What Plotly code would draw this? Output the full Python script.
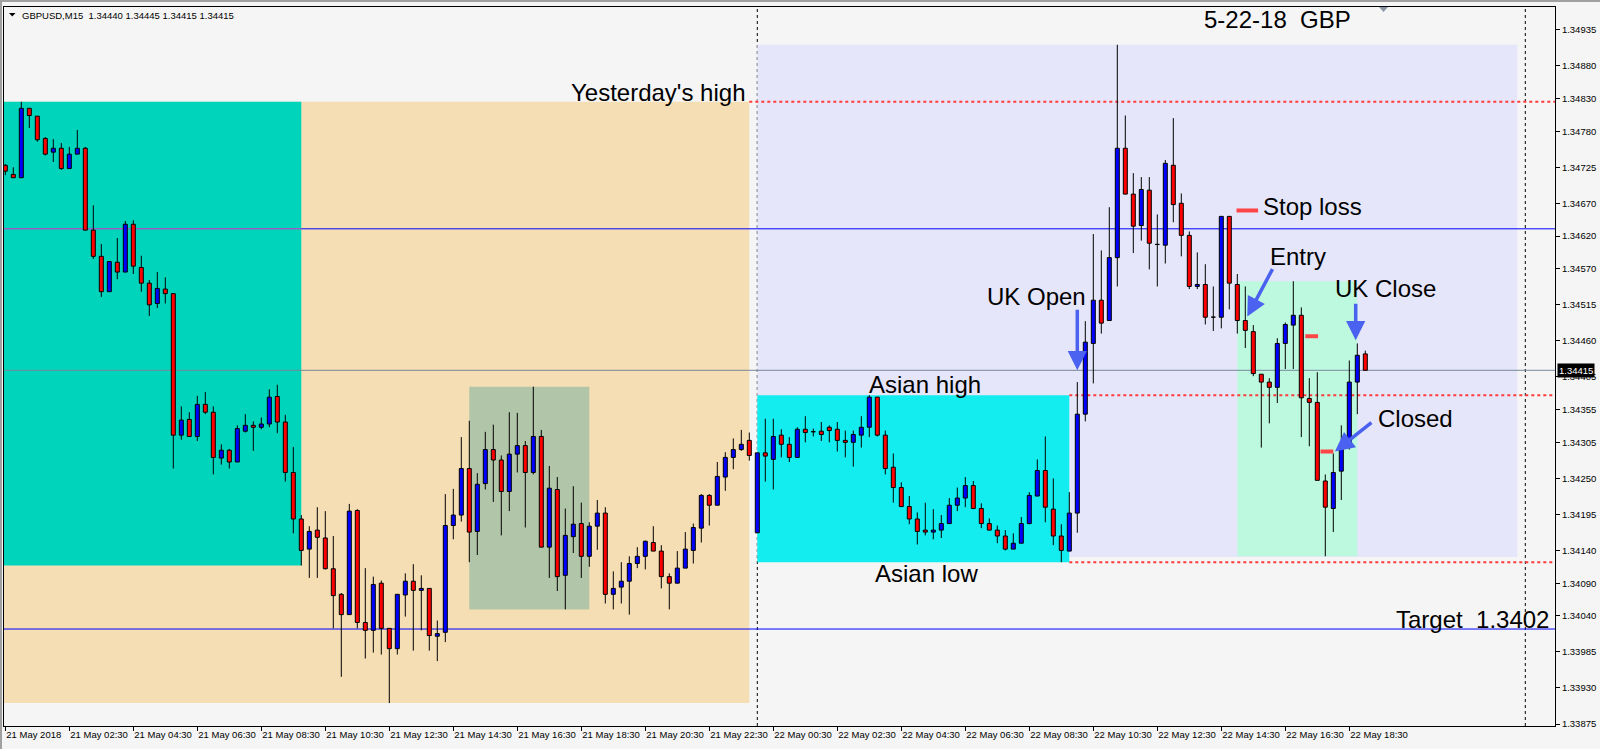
import plotly.graph_objects as go

# ---------------- data (GBPUSD M15, 21 May 00:30 -> 22 May 19:00) ----------------
bar_index = list(range(171))

opens = [1.34728, 1.34714, 1.34709, 1.34815, 1.34803, 1.34769, 1.34748, 1.34754, 1.34723, 1.34745,
         1.34754, 1.34629, 1.34589, 1.34535, 1.34580, 1.34565, 1.34638, 1.34572, 1.34548, 1.34517,
         1.34539, 1.34532, 1.34316, 1.34340, 1.34314, 1.34363, 1.34351, 1.34281, 1.34293, 1.34275,
         1.34322, 1.34331, 1.34328, 1.34333, 1.34375, 1.34336, 1.34259, 1.34188, 1.34142, 1.34171,
         1.34159, 1.34112, 1.34073, 1.34042, 1.34201, 1.34030, 1.34018, 1.34090, 1.34021, 1.33990,
         1.34072, 1.34093, 1.34079, 1.34082, 1.34009, 1.34015, 1.34178, 1.34194, 1.34265, 1.34169,
         1.34242, 1.34294, 1.34278, 1.34230, 1.34287, 1.34300, 1.34259, 1.34314, 1.34145, 1.34233,
         1.34102, 1.34161, 1.34181, 1.34131, 1.34177, 1.34197, 1.34073, 1.34084, 1.34093, 1.34120,
         1.34131, 1.34152, 1.34139, 1.34100, 1.34090, 1.34113, 1.34140, 1.34174, 1.34224, 1.34209,
         1.34252, 1.34282, 1.34294, 1.34308, 1.34167, 1.34289, 1.34279, 1.34316, 1.34302, 1.34282,
         1.34325, 1.34321, 1.34322, 1.34328, 1.34325, 1.34308, 1.34305, 1.34316, 1.34328, 1.34374,
         1.34316, 1.34267, 1.34236, 1.34207, 1.34188, 1.34171, 1.34168, 1.34171, 1.34181, 1.34209,
         1.34220, 1.34239, 1.34204, 1.34181, 1.34171, 1.34162, 1.34142, 1.34151, 1.34181, 1.34223,
         1.34262, 1.34203, 1.34162, 1.34139, 1.34197, 1.34348, 1.34456, 1.34522, 1.34491, 1.34587,
         1.34754, 1.34684, 1.34636, 1.34690, 1.34607, 1.34606, 1.34728, 1.34670, 1.34621, 1.34543,
         1.34546, 1.34496, 1.34496, 1.34650, 1.34546, 1.34491, 1.34474, 1.34409, 1.34397, 1.34389,
         1.34456, 1.34484, 1.34499, 1.34372, 1.34366, 1.34246, 1.34204, 1.34261, 1.34299, 1.34397,
         1.34440]

highs = [1.34730, 1.34725, 1.34825, 1.34815, 1.34803, 1.34771, 1.34768, 1.34762, 1.34756, 1.34782,
         1.34756, 1.34667, 1.34608, 1.34581, 1.34617, 1.34643, 1.34644, 1.34590, 1.34553, 1.34565,
         1.34557, 1.34532, 1.34360, 1.34351, 1.34376, 1.34382, 1.34360, 1.34302, 1.34295, 1.34331,
         1.34348, 1.34337, 1.34343, 1.34386, 1.34393, 1.34347, 1.34298, 1.34194, 1.34177, 1.34206,
         1.34200, 1.34162, 1.34075, 1.34211, 1.34203, 1.34113, 1.34100, 1.34094, 1.34021, 1.34073,
         1.34105, 1.34119, 1.34102, 1.34082, 1.34033, 1.34226, 1.34234, 1.34313, 1.34338, 1.34258,
         1.34321, 1.34332, 1.34285, 1.34351, 1.34350, 1.34307, 1.34390, 1.34324, 1.34269, 1.34252,
         1.34204, 1.34238, 1.34213, 1.34183, 1.34217, 1.34206, 1.34108, 1.34122, 1.34131, 1.34145,
         1.34155, 1.34177, 1.34148, 1.34105, 1.34139, 1.34168, 1.34181, 1.34226, 1.34226, 1.34275,
         1.34290, 1.34311, 1.34324, 1.34320, 1.34289, 1.34341, 1.34341, 1.34325, 1.34313, 1.34328,
         1.34345, 1.34326, 1.34336, 1.34331, 1.34336, 1.34323, 1.34323, 1.34345, 1.34377, 1.34374,
         1.34323, 1.34288, 1.34244, 1.34223, 1.34198, 1.34213, 1.34203, 1.34194, 1.34220, 1.34236,
         1.34252, 1.34246, 1.34212, 1.34189, 1.34178, 1.34171, 1.34166, 1.34191, 1.34229, 1.34279,
         1.34314, 1.34250, 1.34180, 1.34229, 1.34397, 1.34490, 1.34623, 1.34598, 1.34664, 1.34912,
         1.34804, 1.34716, 1.34710, 1.34710, 1.34653, 1.34736, 1.34800, 1.34685, 1.34627, 1.34595,
         1.34577, 1.34543, 1.34650, 1.34650, 1.34562, 1.34543, 1.34484, 1.34409, 1.34403, 1.34464,
         1.34488, 1.34551, 1.34511, 1.34403, 1.34412, 1.34256, 1.34288, 1.34331, 1.34430, 1.34456,
         1.34445]

lows = [1.34713, 1.34709, 1.34709, 1.34785, 1.34764, 1.34743, 1.34733, 1.34721, 1.34723, 1.34745,
        1.34629, 1.34585, 1.34527, 1.34535, 1.34554, 1.34565, 1.34562, 1.34535, 1.34498, 1.34510,
        1.34517, 1.34265, 1.34309, 1.34314, 1.34307, 1.34348, 1.34256, 1.34271, 1.34265, 1.34275,
        1.34320, 1.34292, 1.34325, 1.34328, 1.34319, 1.34245, 1.34166, 1.34117, 1.34098, 1.34098,
        1.34111, 1.34021, 1.33947, 1.34042, 1.34021, 1.33975, 1.33984, 1.33981, 1.33907, 1.33981,
        1.34039, 1.33987, 1.34018, 1.33987, 1.33971, 1.34000, 1.34157, 1.34184, 1.34122, 1.34133,
        1.34233, 1.34214, 1.34163, 1.34200, 1.34259, 1.34175, 1.34256, 1.34145, 1.34098, 1.34078,
        1.34050, 1.34136, 1.34098, 1.34115, 1.34141, 1.34059, 1.34050, 1.34059, 1.34042, 1.34113,
        1.34111, 1.34139, 1.34082, 1.34050, 1.34090, 1.34113, 1.34120, 1.34152, 1.34178, 1.34209,
        1.34231, 1.34264, 1.34292, 1.34277, 1.34167, 1.34245, 1.34233, 1.34282, 1.34275, 1.34282,
        1.34305, 1.34314, 1.34307, 1.34305, 1.34291, 1.34282, 1.34268, 1.34297, 1.34313, 1.34314,
        1.34256, 1.34213, 1.34206, 1.34180, 1.34149, 1.34163, 1.34157, 1.34159, 1.34181, 1.34200,
        1.34206, 1.34203, 1.34174, 1.34171, 1.34151, 1.34140, 1.34142, 1.34151, 1.34180, 1.34223,
        1.34183, 1.34148, 1.34122, 1.34139, 1.34167, 1.34337, 1.34395, 1.34471, 1.34491, 1.34543,
        1.34684, 1.34594, 1.34613, 1.34569, 1.34543, 1.34578, 1.34641, 1.34589, 1.34539, 1.34539,
        1.34485, 1.34475, 1.34479, 1.34508, 1.34471, 1.34449, 1.34406, 1.34297, 1.34334, 1.34365,
        1.34417, 1.34417, 1.34313, 1.34299, 1.34247, 1.34131, 1.34168, 1.34217, 1.34294, 1.34348,
        1.34415]

closes = [1.34719, 1.34709, 1.34815, 1.34804, 1.34767, 1.34745, 1.34754, 1.34723, 1.34745, 1.34754,
          1.34629, 1.34589, 1.34535, 1.34581, 1.34565, 1.34638, 1.34574, 1.34548, 1.34515, 1.34540,
          1.34532, 1.34316, 1.34339, 1.34314, 1.34363, 1.34351, 1.34282, 1.34293, 1.34275, 1.34326,
          1.34331, 1.34328, 1.34333, 1.34374, 1.34336, 1.34259, 1.34188, 1.34140, 1.34169, 1.34160,
          1.34112, 1.34071, 1.34042, 1.34200, 1.34030, 1.34018, 1.34088, 1.34021, 1.33990, 1.34073,
          1.34093, 1.34079, 1.34082, 1.34010, 1.34013, 1.34178, 1.34194, 1.34265, 1.34168, 1.34241,
          1.34294, 1.34278, 1.34230, 1.34287, 1.34300, 1.34259, 1.34314, 1.34145, 1.34235, 1.34100,
          1.34163, 1.34180, 1.34131, 1.34177, 1.34197, 1.34073, 1.34082, 1.34093, 1.34120, 1.34131,
          1.34154, 1.34139, 1.34100, 1.34090, 1.34113, 1.34142, 1.34175, 1.34224, 1.34209, 1.34253,
          1.34282, 1.34294, 1.34302, 1.34285, 1.34289, 1.34284, 1.34314, 1.34302, 1.34282, 1.34325,
          1.34320, 1.34321, 1.34317, 1.34323, 1.34308, 1.34305, 1.34317, 1.34328, 1.34374, 1.34316,
          1.34265, 1.34236, 1.34207, 1.34188, 1.34169, 1.34168, 1.34171, 1.34181, 1.34209, 1.34220,
          1.34239, 1.34204, 1.34181, 1.34171, 1.34162, 1.34142, 1.34151, 1.34181, 1.34224, 1.34262,
          1.34206, 1.34162, 1.34140, 1.34197, 1.34348, 1.34458, 1.34522, 1.34487, 1.34587, 1.34754,
          1.34684, 1.34635, 1.34691, 1.34609, 1.34607, 1.34731, 1.34668, 1.34621, 1.34543, 1.34546,
          1.34496, 1.34496, 1.34650, 1.34548, 1.34491, 1.34476, 1.34410, 1.34397, 1.34389, 1.34456,
          1.34485, 1.34499, 1.34373, 1.34366, 1.34247, 1.34206, 1.34259, 1.34299, 1.34397, 1.34438,
          1.34415]

tick_bars = [0, 8, 16, 24, 32, 40, 48, 56, 64, 72, 80, 88, 96, 104, 112, 120, 128, 136, 144, 152, 160, 168]
tick_labels = ["21 May 2018", "21 May 02:30", "21 May 04:30", "21 May 06:30", "21 May 08:30",
               "21 May 10:30", "21 May 12:30", "21 May 14:30", "21 May 16:30", "21 May 18:30",
               "21 May 20:30", "21 May 22:30", "22 May 00:30", "22 May 02:30", "22 May 04:30",
               "22 May 06:30", "22 May 08:30", "22 May 10:30", "22 May 12:30", "22 May 14:30",
               "22 May 16:30", "22 May 18:30"]
price_ticks = [1.34935, 1.34880, 1.34830, 1.34780, 1.34725, 1.34670, 1.34620, 1.34570, 1.34515,
               1.34460, 1.34405, 1.34355, 1.34305, 1.34250, 1.34195, 1.34140, 1.34090, 1.34040,
               1.33985, 1.33930, 1.33875]

# price levels
yesterday_high = 1.34825
asian_high = 1.34377
asian_low = 1.34122
blue_level = 1.34631
current_price = 1.34415
target_price = 1.34020
stop_loss = 1.34659
entry_mark = 1.34467
closed_price = 1.34291

# session boxes: (first bar, last bar, high, low)
day21_box = (-2, 93, 1.34825, 1.33907)
asia21_box = (-2, 37, 1.34825, 1.34117)
ny21_box = (58, 73, 1.34390, 1.34050)
day22_box = (94, 189, 1.34912, 1.34130)
asia22_box = (94, 133, 1.34377, 1.34122)
trade_box = (154, 169, 1.34551, 1.34131)
midnight_bars = [94, 190]
level_start_yh = 93
level_start_asia = 133
uk_open_bar = 134
uk_close_bar = 168.8
entry_bar = 155.25
closed_bar = 166.2
stop_mark_bars = (153.9, 156.6)
entry_mark_bars = (162.5, 164.1)
closed_mark_bars = (164.4, 166.0)

# ---------------- geometry ----------------
W, H = 1600, 749
ML, MR, MT, MB = 4, 45, 7, 23
PW, PH = W - ML - MR, H - MT - MB
PX_PER_BAR = 8.0
PX_PER_PRICE = 65500.0
x0 = -0.1625
x_range = [x0, x0 + PW / PX_PER_BAR]
y_top = 1.34935 + (29.7 - MT) / PX_PER_PRICE
y_range = [y_top - PH / PX_PER_PRICE, y_top]


def xp(px):
    return (px - ML) / PW


def yp(py):
    return 1 - (py - MT) / PH


FONT = "Liberation Sans, Arial, sans-serif"
AXFONT = dict(family=FONT, size=9.5, color="black")

fig = go.Figure()

# wicks (split into upper/lower so they don't cross bodies)
wx, wy = [], []
for i, o, h, l, c in zip(bar_index, opens, highs, lows, closes):
    top, bot = max(o, c), min(o, c)
    if h > top:
        wx += [i, i, None]
        wy += [top, h, None]
    if l < bot:
        wx += [i, i, None]
        wy += [bot, l, None]
fig.add_trace(go.Scatter(x=wx, y=wy, mode="lines", line=dict(color="black", width=1),
                         hoverinfo="skip", showlegend=False))

MIN_BODY = 0.000004
for bull, color in ((True, "#0000FF"), (False, "#FF0000")):
    xs, bases, heights = [], [], []
    for i, o, c in zip(bar_index, opens, closes):
        if (c > o) == bull:
            xs.append(i)
            bases.append(min(o, c))
            heights.append(max(abs(c - o), MIN_BODY))
    fig.add_trace(go.Bar(x=xs, y=heights, base=bases, width=0.5,
                         marker=dict(color=color, line=dict(color="black", width=1)),
                         hoverinfo="skip", showlegend=False))

shapes = []


def rect(box, color):
    b0, b1, hi, lo = box
    shapes.append(dict(type="rect", xref="x", yref="y", x0=b0, x1=b1, y0=lo, y1=hi,
                       fillcolor=color, line=dict(width=0), layer="below"))


rect(day21_box, "#F5DEB3")
rect(asia21_box, "#00D5BC")
rect(ny21_box, "#B1C5A8")
rect(day22_box, "#E6E6FA")
rect(asia22_box, "#13EDEF")
rect(trade_box, "#BCF9DF")


def hline(y, xa, xb, color, width=1, dash="solid", layer="below"):
    shapes.append(dict(type="line", xref="x", yref="y", x0=xa, x1=xb, y0=y, y1=y,
                       line=dict(color=color, width=width, dash=dash), layer=layer))


hline(blue_level, x_range[0], asia21_box[1], "#E822C8")
hline(blue_level, asia21_box[1], x_range[1], "#0000FF")
hline(current_price, x_range[0], x_range[1], "#778899")
hline(target_price, x_range[0], x_range[1], "#0000FF")
hline(yesterday_high, level_start_yh, x_range[1], "#FF3B3B", 2, "3px,3px")
hline(asian_high, level_start_asia, x_range[1], "#FF3B3B", 2, "3px,3px")
hline(asian_low, level_start_asia, x_range[1], "#FF3B3B", 2, "3px,3px")
hline(stop_loss, stop_mark_bars[0], stop_mark_bars[1], "#FF4545", 4, layer="above")
hline(entry_mark, entry_mark_bars[0], entry_mark_bars[1], "#FF4545", 4, layer="above")
hline(closed_price, closed_mark_bars[0], closed_mark_bars[1], "#FF4545", 4, layer="above")

for b in midnight_bars:
    shapes.append(dict(type="line", xref="x", yref="paper", x0=b, x1=b, y0=0, y1=1,
                       line=dict(color="black", width=1, dash="3px,3px"), layer="below"))

# window frame bits
shapes.append(dict(type="rect", xref="paper", yref="paper", x0=xp(0), x1=xp(1600), y0=yp(2), y1=yp(0),
                   fillcolor="#A0A0A0", line=dict(width=0)))
shapes.append(dict(type="rect", xref="paper", yref="paper", x0=xp(0), x1=xp(2), y0=yp(749), y1=yp(0),
                   fillcolor="#A0A0A0", line=dict(width=0)))
shapes.append(dict(type="path", xref="paper", yref="paper",
                   path=f"M {xp(1379)} {yp(7)} L {xp(1388)} {yp(7)} L {xp(1383.5)} {yp(12)} Z",
                   fillcolor="#8A96A3", line=dict(width=0)))
shapes.append(dict(type="path", xref="paper", yref="paper",
                   path=f"M {xp(9)} {yp(13)} L {xp(15.5)} {yp(13)} L {xp(12.25)} {yp(16.5)} Z",
                   fillcolor="black", line=dict(width=0)))

annotations = []


def label(text, px, py, anchor, size=24):
    annotations.append(dict(text=text, xref="paper", yref="paper", x=xp(px), y=yp(py),
                            xanchor=anchor, yanchor="middle", showarrow=False,
                            font=dict(family=FONT, size=size, color="black")))


label("5-22-18\u00a0 GBP", 1277.5, 20, "center")
label("Yesterday's high", 747, 92, "right")
label("Stop loss", 1261, 206, "left")
label("Entry", 1268, 256, "left")
label("UK Open", 1088, 296, "right")
label("UK Close", 1333, 289, "left")
label("Asian high", 925, 385, "center")
label("Asian low", 926, 573, "center")
label("Closed", 1376, 418, "left")
label("Target\u00a0 1.3402", 1551, 619, "right")
label("GBPUSD,M15\u00a0 1.34440 1.34445 1.34415 1.34415", 20, 15, "left", 9.5)

ARROW = "#4B61EF"


def arrow(bar, price, ax, ay):
    annotations.append(dict(text="", xref="x", yref="y", x=bar, y=price, ax=ax, ay=ay,
                            showarrow=True, arrowhead=2, arrowsize=1.1, arrowwidth=3.5,
                            arrowcolor=ARROW))


arrow(uk_open_bar, current_price, 0, -62)
arrow(uk_close_bar, 1.34461, 0, -38)
arrow(entry_bar, 1.34497, 26, -49)
arrow(closed_bar, closed_price, 38, -30)

annotations.append(dict(text="1.34415", xref="paper", yref="y", x=xp(1557), y=current_price,
                        xanchor="left", yanchor="middle", showarrow=False, bgcolor="black",
                        borderpad=1, font=dict(family=FONT, size=9.5, color="white")))

fig.update_layout(
    width=W, height=H,
    margin=dict(l=ML, r=MR, t=MT, b=MB, pad=0, autoexpand=False),
    paper_bgcolor="#F5F5F5", plot_bgcolor="#F5F5F5",
    showlegend=False, barmode="overlay",
    shapes=shapes, annotations=annotations,
    xaxis=dict(range=x_range, tickmode="array", tickvals=tick_bars, ticktext=tick_labels,
               ticks="outside", ticklen=4, tickcolor="black", ticklabelposition="outside right",
               tickangle=0, automargin=False,
               tickfont=AXFONT, showgrid=False, zeroline=False, showline=True,
               linecolor="black", linewidth=1, mirror=True, fixedrange=True),
    yaxis=dict(range=y_range, side="right", tickmode="array", tickvals=price_ticks,
               ticktext=[f"{v:.5f}" for v in price_ticks], ticks="outside", ticklen=4,
               automargin=False,
               tickcolor="black", tickfont=AXFONT, showgrid=False, zeroline=False,
               showline=True, linecolor="black", linewidth=1, mirror=True, fixedrange=True),
)

fig.write_html("out.html", config={"displayModeBar": False},
               post_script="document.body.style.margin='0';document.body.style.overflow='hidden';")
